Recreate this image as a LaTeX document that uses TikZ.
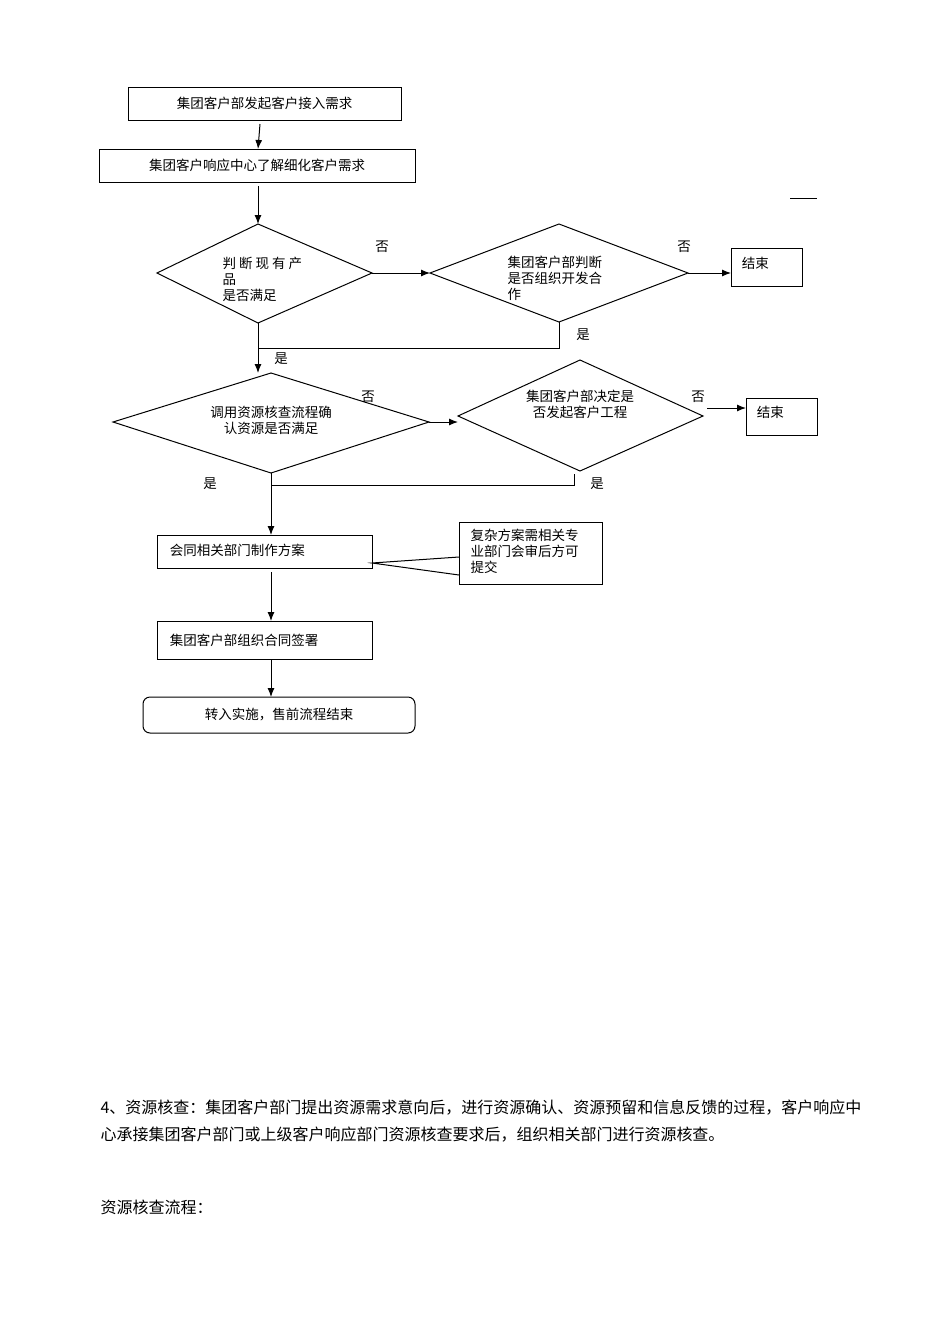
\documentclass[tikz,border=0pt]{standalone}
\usepackage{fontspec}
\setmainfont{Noto Sans CJK SC}
\usetikzlibrary{arrows.meta}
\begin{document}
\begin{tikzpicture}[x=1pt,y=-1pt,
  line width=1pt,
  arr/.style={-{Latex[length=9pt,width=7pt]}},
  lbl/.style={font=\fontsize{13.5}{16}\selectfont},
  txt/.style={font=\fontsize{13.5}{16}\selectfont,align=left,inner sep=0pt},
  para/.style={anchor=west,inner sep=0pt,font=\fontsize{16}{18}\selectfont}]
\useasboundingbox[fill=white] (0,0) rectangle (950,1344);
% boxes
\draw (128,87) rectangle (401,120); \node[lbl] (b1) at (264.5,103.5) {集团客户部发起客户接入需求};
\coordinate (b1s) at (260,124);
\draw (99,149) rectangle (415,182); \node[lbl] (b2) at (257,165.5) {集团客户响应中心了解细化客户需求};
\coordinate (b2n) at (258,149);
\coordinate (b2s) at (258,186);
\draw[arr] (b1s) -- (b2n);
% diamond 1
\coordinate (d1l) at (157,273); \coordinate (d1t) at (258,224); \coordinate (d1r) at (372,273); \coordinate (d1b) at (258,323);
\draw (d1l)--(d1t)--(d1r)--(d1b)--cycle;
\node[txt,anchor=north west] (d1) at (222,257) {判 断 现 有 产\\品\\是否满足};
\draw[arr] (b2s) -- (d1t);
% diamond 2
\coordinate (d2l) at (430,273); \coordinate (d2t) at (559,224); \coordinate (d2r) at (688,273); \coordinate (d2b) at (559,322);
\draw (d2l)--(d2t)--(d2r)--(d2b)--cycle;
\node[txt,anchor=north west] (d2) at (507,256) {集团客户部判断\\是否组织开发合\\作};
\draw[arr] (d1r) -- (d2l);
\node[lbl] (n1) at (382,247) {否};
\draw (731,248) rectangle (802,286); \node[lbl,anchor=west] (e1) at (738,263) {结束};
\coordinate (e1w) at (731,273);
\draw[arr] (d2r) -- (e1w);
\node[lbl] (n2) at (684,247) {否};
\coordinate (j1) at (258,348);
\draw (d2b) |- (j1);
\node[lbl] (y1) at (583,335) {是};
\node[lbl] (y2) at (281,359) {是};
% diamond 3
\coordinate (d3l) at (113,422); \coordinate (d3t) at (271,373); \coordinate (d3r) at (429,422); \coordinate (d3b) at (271,473);
\coordinate (d3tt) at (258,373);
\draw[arr] (d1b) -- (d3tt);
\draw (d3l)--(d3t)--(d3r)--(d3b)--cycle;
\node[txt,align=center] (d3) at (271,420) {调用资源核查流程确\\认资源是否满足};
\node[lbl] (n3) at (368,397) {否};
% diamond 4
\coordinate (d4l) at (458,416); \coordinate (d4t) at (580,360); \coordinate (d4r) at (703,416); \coordinate (d4b) at (580,471);
\draw (d4l)--(d4t)--(d4r)--(d4b)--cycle;
\node[txt,align=center] (d4) at (580,404) {集团客户部决定是\\否发起客户工程};
\coordinate (d4li) at (458,422);
\draw[arr] (d3r) -- (d4li);
\draw (746,398) rectangle (817,435); \node[lbl,anchor=west] (e2) at (753,412) {结束};
\coordinate (e2a) at (707,408); \coordinate (e2w) at (746,408);
\draw[arr] (e2a) -- (e2w);
\node[lbl] (n4) at (698,397) {否};
\coordinate (d4bb) at (574,474); \coordinate (j2) at (271,485);
\draw (d4bb) |- (j2);
\node[lbl] (y3) at (597,484) {是};
\node[lbl] (y4) at (210,484) {是};
% lower boxes
\draw (157,535) rectangle (372,568); \node[lbl,anchor=west] (b5) at (166,550) {会同相关部门制作方案};
\coordinate (b5n) at (271,535); \coordinate (b5s) at (271,572); \coordinate (b5r) at (372,563);
\draw[arr] (d3b) -- (b5n);
\draw (459,522) rectangle (602,584);
\node[txt,anchor=north west] (note) at (470,529) {复杂方案需相关专\\业部门会审后方可\\提交};
\coordinate (nt1) at (459,557); \coordinate (nt2) at (459,575);
\draw (nt1) -- (b5r) -- (nt2);
\draw (157,621) rectangle (372,659); \node[lbl,anchor=west] (b6) at (166,640) {集团客户部组织合同签署};
\coordinate (b6n) at (271,621); \coordinate (b6s) at (271,659);
\draw[arr] (b5s) -- (b6n);
\draw[rounded corners=7pt] (143,697) rectangle (415,733);
\node[lbl] (b7) at (279,714) {转入实施，售前流程结束};
\coordinate (b7n) at (271,697);
\draw[arr] (b6s) -- (b7n);
\draw (790,198) -- (817,198);
% paragraph
\node[para] (p1) at (100,1108) {4、资源核查：集团客户部门提出资源需求意向后，进行资源确认、资源预留和信息反馈的过程，客户响应中};
\node[para] (p2) at (100,1135) {心承接集团客户部门或上级客户响应部门资源核查要求后，组织相关部门进行资源核查。};
\node[para] (p3) at (100,1207) {资源核查流程：};
\end{tikzpicture}
\end{document}
